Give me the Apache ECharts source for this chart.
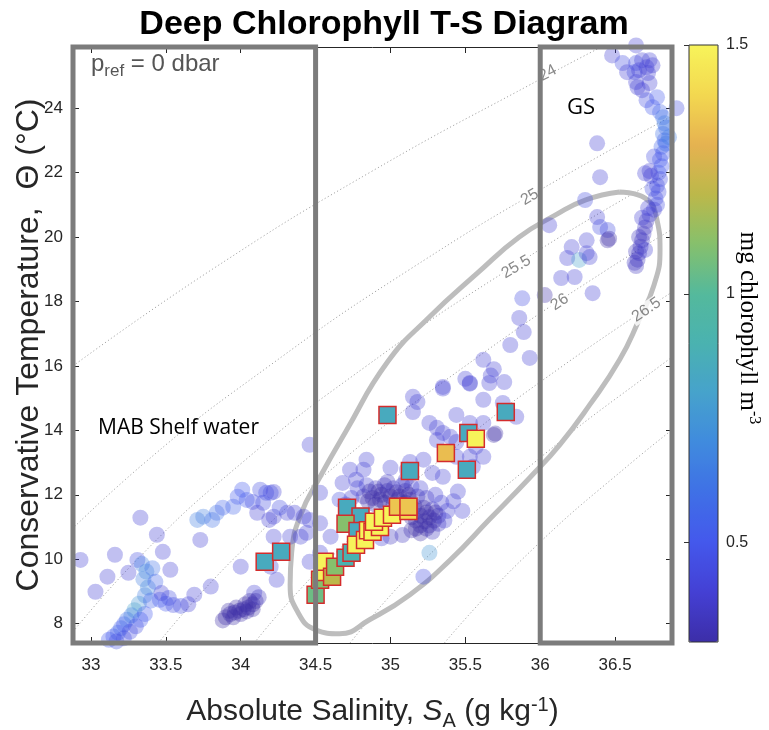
<!DOCTYPE html>
<html>
<head>
<meta charset="utf-8">
<title>Deep Chlorophyll T-S Diagram</title>
<script src="https://cdn.jsdelivr.net/npm/echarts/dist/echarts.min.js"></script>
<style>
  html, body { margin: 0; padding: 0; background: #fff; }
  #main { width: 769px; height: 730px; }
</style>
</head>
<body>
<div id="main"></div>
<script type="text/javascript">
// axis ranges and tick labels
var sRange = [32.88, 36.88];
var tRange = [7.4, 25.9];
var chlRange = [0.3, 1.5];
var salinityTicks = [33, 33.5, 34, 34.5, 35, 35.5, 36, 36.5];
var tempTicks = [8, 10, 12, 14, 16, 18, 20, 22, 24];
var chlTicks = [0.5, 1, 1.5];

// water mass boxes (salinity limits)
var shelfBox = [32.88, 34.5];
var gsBox = [36, 36.88];

// isopycnals (sigma0), points [S, T]
var isoLevels = [24, 25, 25.5, 26, 26.5, 27, 27.5];
var isoLines = [
  [[32.88, 16], [33.81, 19], [34.86, 22], [36.04, 25], [36.45, 26]],
  [[32.67, 10], [33.36, 13], [34.19, 16], [35.13, 19], [36.2, 22], [37.38, 25]],
  [[32.82, 7.4], [33.31, 10], [34.01, 13], [34.84, 16], [35.79, 19], [36.86, 22], [37.26, 23]],
  [[33.45, 7.4], [33.95, 10], [34.66, 13], [35.5, 16], [36.45, 19], [37.16, 21]],
  [[34.09, 7.4], [34.59, 10], [35.31, 13], [36.15, 16], [37.12, 19]],
  [[34.73, 7.4], [35.23, 10], [35.96, 13], [36.8, 16], [37.11, 17]],
  [[35.36, 7.4], [35.88, 10], [36.61, 13], [37.16, 15]]
];
var isoLabels = [
  [36.05, 25.09, '24'],
  [35.93, 21.24, '25'],
  [35.84, 19.07, '25.5'],
  [36.13, 17.98, '26'],
  [36.71, 17.74, '26.5']
];
var isoLabelAngles = [28, 31, 31, 34, 34];

// grey ellipse round the DCM cluster [S, T]
var ellipsePts = [
  [36.53, 21.4], [36.7, 21.21], [36.78, 20.53], [36.8, 19.6], [36.76, 18.51],
  [36.66, 17.43], [36.53, 16.19], [36.33, 14.79], [36.13, 13.55], [35.93, 12.53],
  [35.66, 11.23], [35.4, 9.98], [35.13, 8.9], [34.86, 8.12], [34.66, 7.69],
  [34.5, 7.81], [34.38, 8.37], [34.33, 9.21], [34.34, 10.2], [34.4, 11.38],
  [34.53, 12.56], [34.7, 13.95], [34.98, 16.12], [35.26, 17.52], [35.58, 18.88],
  [35.86, 20.0], [36.1, 20.68], [36.3, 21.15], [36.53, 21.4]
];

// all profiles [S, T, chl]
var shelfCircles = [
  [32.93, 9.98, 0.4], [33.03, 8.99, 0.4], [33.11, 9.46, 0.4], [33.16, 10.14, 0.4],
  [33.25, 9.58, 0.4], [33.31, 9.98, 0.45], [33.33, 11.29, 0.4], [33.44, 10.76, 0.4],
  [33.48, 10.23, 0.4], [33.53, 9.67, 0.4],
  [33.34, 9.85, 0.65], [33.37, 9.62, 0.7], [33.35, 9.38, 0.65], [33.38, 9.12, 0.7],
  [33.36, 8.88, 0.65], [33.32, 8.62, 0.75], [33.29, 8.42, 0.8], [33.41, 9.72, 0.6],
  [33.43, 9.3, 0.55], [33.4, 8.72, 0.55],
  [33.46, 8.74, 0.5], [33.5, 8.62, 0.5], [33.55, 8.58, 0.45], [33.6, 8.55, 0.45],
  [33.65, 8.6, 0.4], [33.69, 8.9, 0.4], [33.8, 9.15, 0.4], [33.47, 8.95, 0.4], [33.52, 8.8, 0.45],
  [33.12, 7.5, 0.5], [33.15, 7.6, 0.5], [33.18, 7.72, 0.55], [33.2, 7.86, 0.55],
  [33.22, 7.98, 0.5], [33.24, 8.12, 0.6], [33.27, 8.26, 0.65], [33.26, 7.75, 0.45],
  [33.3, 7.92, 0.45], [33.17, 7.45, 0.45], [33.22, 7.55, 0.45], [33.33, 8.12, 0.5], [33.36, 8.3, 0.5],
  [33.71, 11.22, 0.65], [33.75, 11.32, 0.65], [33.81, 11.22, 0.6], [33.84, 11.44, 0.6],
  [33.88, 11.6, 0.55], [33.95, 11.63, 0.55], [33.98, 11.94, 0.5], [34.01, 12.16, 0.5],
  [34.04, 11.84, 0.5], [34.08, 11.78, 0.45], [34.13, 12.16, 0.45], [34.17, 12.06, 0.45],
  [34.22, 12.09, 0.4], [34.15, 11.75, 0.45], [34.11, 11.44, 0.4], [34.22, 11.32, 0.4],
  [34.31, 11.44, 0.4], [34.36, 11.44, 0.4], [33.73, 10.6, 0.4], [34.2, 12.06, 0.45],
  [34.0, 9.77, 0.4], [34.09, 8.96, 0.4], [34.22, 10.7, 0.4], [34.24, 9.36, 0.4],
  [34.2, 9.77, 0.4], [34.19, 11.22, 0.4],
  [33.88, 8.1, 0.3], [33.9, 8.2, 0.3], [33.93, 8.3, 0.3], [33.96, 8.35, 0.3],
  [33.99, 8.4, 0.3], [34.02, 8.45, 0.3], [34.05, 8.5, 0.3], [34.08, 8.6, 0.3],
  [34.1, 8.7, 0.3], [33.95, 8.2, 0.3], [34.0, 8.3, 0.3], [34.04, 8.38, 0.3],
  [34.08, 8.45, 0.3], [33.92, 8.4, 0.3], [33.97, 8.5, 0.3], [34.03, 8.6, 0.3],
  [34.12, 8.82, 0.35], [34.06, 8.7, 0.3]
];
var cloudCircles = [
  [34.46, 13.55, 0.4], [34.26, 11.6, 0.45], [34.42, 11.32, 0.4], [34.53, 12.06, 0.4],
  [34.33, 10.7, 0.4], [34.4, 10.7, 0.4], [34.44, 10.82, 0.4], [34.46, 9.92, 0.4],
  [34.53, 10.2, 0.4], [34.6, 10.7, 0.4], [34.46, 11.22, 0.4], [34.53, 11.12, 0.4],
  [34.73, 12.78, 0.4], [34.68, 12.37, 0.4], [34.77, 12.47, 0.4], [34.82, 12.78, 0.4],
  [34.84, 13.09, 0.4], [35.0, 12.84, 0.4], [35.11, 12.78, 0.4], [35.13, 13.02, 0.4],
  [35.22, 13.09, 0.4], [35.28, 12.68, 0.4], [35.35, 12.56, 0.4], [35.44, 13.18, 0.4],
  [35.53, 13.18, 0.4], [35.57, 13.49, 0.4], [35.55, 12.87, 0.4], [35.62, 13.18, 0.4],
  [35.31, 13.7, 0.4], [35.26, 14.23, 0.4], [35.31, 14.08, 0.4], [35.35, 13.92, 0.4],
  [35.4, 13.8, 0.4], [35.44, 13.64, 0.4], [35.53, 14.23, 0.4], [35.62, 14.23, 0.4],
  [35.62, 14.95, 0.4], [35.53, 15.47, 0.4], [35.66, 15.47, 0.4], [35.69, 13.86, 0.3],
  [35.7, 13.9, 0.3], [35.84, 14.42, 0.4], [35.75, 14.85, 0.4], [35.15, 15.04, 0.4],
  [35.18, 14.88, 0.4], [35.15, 14.57, 0.4], [35.35, 15.35, 0.4], [35.44, 14.48, 0.4],
  [35.26, 10.2, 0.75], [35.22, 9.46, 0.45], [35.42, 11.8, 0.4], [35.45, 12.1, 0.4],
  [35.48, 11.5, 0.4]
];
var coreCircles = [
  [34.78, 12.2, 0.4], [34.84, 12.3, 0.4], [34.9, 12.2, 0.35], [34.96, 12.3, 0.35],
  [35.02, 12.2, 0.35], [35.08, 12.3, 0.4], [35.14, 12.25, 0.4], [35.2, 12.2, 0.4],
  [34.82, 11.95, 0.35], [34.88, 11.9, 0.3], [34.94, 12.0, 0.3], [35.0, 11.95, 0.3],
  [35.06, 11.95, 0.3], [35.12, 12.0, 0.3], [35.18, 11.95, 0.35], [35.24, 11.9, 0.35],
  [34.9, 11.7, 0.3], [34.96, 11.75, 0.3], [35.02, 11.7, 0.3], [35.1, 11.75, 0.3],
  [35.16, 11.65, 0.3], [35.22, 11.6, 0.3], [35.28, 11.55, 0.35], [35.2, 11.35, 0.3],
  [35.26, 11.3, 0.3], [35.32, 11.35, 0.35], [35.14, 11.3, 0.3], [35.2, 11.05, 0.3],
  [35.26, 11.05, 0.3], [35.32, 11.1, 0.35], [35.14, 10.9, 0.3], [35.08, 10.75, 0.35],
  [35.2, 10.8, 0.3], [35.28, 10.85, 0.35], [35.0, 10.7, 0.35], [34.94, 10.65, 0.4],
  [35.36, 11.2, 0.4], [35.38, 11.5, 0.4], [35.34, 11.75, 0.4], [35.3, 12.0, 0.4],
  [34.74, 11.9, 0.4], [34.7, 11.7, 0.4], [34.66, 11.85, 0.45],
  [34.86, 12.1, 0.3], [34.92, 12.1, 0.3], [34.98, 12.12, 0.3], [35.04, 12.08, 0.3],
  [35.1, 12.12, 0.3], [34.85, 11.8, 0.3], [34.93, 11.85, 0.3], [35.05, 11.85, 0.3],
  [35.13, 11.85, 0.3], [35.08, 11.6, 0.3], [35.18, 11.5, 0.3], [35.24, 11.45, 0.3],
  [35.17, 11.2, 0.3], [35.23, 11.18, 0.3], [35.29, 11.2, 0.3], [35.24, 10.95, 0.3],
  [35.17, 10.95, 0.3], [35.3, 11.45, 0.3], [34.98, 12.4, 0.35], [35.1, 12.45, 0.35]
];
var midCircles = [
  [36.06, 20.37, 0.4], [36.21, 19.69, 0.4], [36.18, 19.35, 0.4], [36.26, 19.29, 0.8],
  [36.14, 18.73, 0.4], [36.23, 18.76, 0.4], [36.03, 18.2, 0.3], [35.88, 18.1, 0.45],
  [35.86, 17.49, 0.4], [35.89, 17.05, 0.4], [35.8, 16.65, 0.4], [35.93, 16.25, 0.4],
  [35.62, 16.19, 0.4], [35.69, 15.9, 0.4], [35.67, 15.7, 0.4], [35.76, 15.5, 0.4],
  [35.5, 15.6, 0.4], [35.53, 15.45, 0.4], [35.35, 15.3, 0.4],
  [36.38, 22.91, 0.4], [36.4, 21.86, 0.4], [36.3, 21.15, 0.45], [36.38, 20.62, 0.4],
  [36.4, 20.31, 0.45], [36.45, 20.22, 0.45], [36.45, 19.9, 0.3], [36.46, 19.95, 0.3],
  [36.31, 19.9, 0.4], [36.31, 19.5, 0.4], [36.33, 19.38, 0.4], [36.35, 18.26, 0.4]
];
var gsCircles = [
  [36.64, 25.95, 0.4], [36.48, 25.64, 0.4], [36.55, 25.4, 0.45], [36.64, 25.4, 0.45],
  [36.68, 25.49, 0.4], [36.73, 25.49, 0.4], [36.58, 25.12, 0.4], [36.63, 25.12, 0.45],
  [36.66, 25.18, 0.4], [36.71, 25.27, 0.4], [36.75, 25.33, 0.4], [36.72, 25.09, 0.4],
  [36.64, 24.81, 0.4], [36.65, 24.65, 0.4], [36.68, 24.56, 0.4], [36.73, 24.78, 0.4],
  [36.71, 24.25, 0.45], [36.78, 24.34, 0.5], [36.75, 24.03, 0.5], [36.8, 23.88, 0.55],
  [36.82, 23.72, 0.6], [36.91, 24.0, 0.45], [36.83, 23.53, 0.65],
  [36.84, 23.4, 0.6], [36.82, 23.2, 0.6], [36.83, 23.0, 0.55], [36.81, 22.8, 0.55],
  [36.82, 22.6, 0.5], [36.8, 22.4, 0.5], [36.81, 22.2, 0.5], [36.79, 22.0, 0.5],
  [36.8, 21.8, 0.45], [36.78, 21.6, 0.45], [36.79, 21.4, 0.45], [36.77, 21.2, 0.45],
  [36.78, 21.0, 0.45], [36.76, 20.85, 0.4], [36.74, 21.9, 0.4], [36.73, 22.05, 0.4],
  [36.84, 22.9, 0.6], [36.86, 23.1, 0.65], [36.7, 21.98, 0.4], [36.76, 22.5, 0.45],
  [36.75, 21.5, 0.45],
  [36.73, 20.7, 0.4], [36.71, 20.5, 0.35], [36.7, 20.3, 0.35], [36.69, 20.1, 0.35],
  [36.68, 19.9, 0.35], [36.67, 19.7, 0.35], [36.66, 19.5, 0.35], [36.65, 19.3, 0.35],
  [36.64, 19.1, 0.35], [36.66, 20.0, 0.35], [36.7, 19.6, 0.4], [36.72, 20.9, 0.4],
  [36.64, 19.55, 0.35], [36.63, 19.2, 0.35], [36.68, 20.6, 0.4]
];

// deep chlorophyll maximum samples [S, T, chl]
var dcmSquares = [
  [34.98, 14.48, 0.85], [35.77, 14.57, 0.85], [35.52, 13.92, 0.85], [35.57, 13.74, 1.5],
  [35.37, 13.3, 1.33], [35.13, 12.74, 0.85], [35.51, 12.78, 0.85], [34.16, 9.92, 0.85],
  [34.27, 10.23, 0.85], [34.71, 11.6, 0.85], [34.8, 11.33, 0.85], [34.7, 11.1, 1.1],
  [34.78, 10.88, 0.85],
  [34.5, 8.9, 1.05], [34.53, 9.36, 1.1], [34.55, 9.6, 1.5], [34.56, 9.92, 1.5],
  [34.61, 9.46, 1.2], [34.63, 9.77, 1.1], [34.7, 10.05, 0.9], [34.74, 10.2, 0.9],
  [34.77, 10.45, 1.5], [34.83, 10.6, 1.5], [34.85, 10.9, 1.5], [34.88, 10.85, 1.5],
  [34.93, 11.0, 1.5], [34.89, 11.16, 1.5], [34.95, 11.29, 1.5], [35.01, 11.38, 1.5],
  [35.12, 11.5, 1.4], [35.05, 11.63, 1.35], [35.12, 11.63, 1.35]
];

// colour map, 0.3 .. 1.5
var chlColors = ['#3c2ea8', '#4440d4', '#4458ec', '#3f70e6', '#408ade', '#46a2cc', '#4ab2b0',
  '#54b99c', '#86c06c', '#bcb84a', '#e6b250', '#f3d850', '#f7f35a'];

var FONT = 'Liberation Sans, Arial, Helvetica, sans-serif';
var axisCol = '#262626';

var myChart = echarts.init(document.getElementById('main'));

var isoSeries = isoLines.map(function (pts, i) {
  return {
    name: 'sigma ' + isoLevels[i], type: 'line', data: pts, symbol: 'none', smooth: true,
    clip: true, silent: true, z: 1,
    lineStyle: { color: '#9c9c9c', width: 0.9, type: [1.2, 2.4] }
  };
});

var ellipseSeries = {
  type: 'line', data: ellipsePts, symbol: 'none', smooth: true, clip: false, silent: true, z: 2,
  lineStyle: { color: '#bdbdbd', width: 5 }
};

var labelSeries = {
  type: 'scatter', silent: true, z: 2, symbolSize: 1,
  itemStyle: { color: 'rgba(0,0,0,0)' },
  data: isoLabels.map(function (d, i) {
    return { value: [d[0], d[1]], label: { formatter: d[2], rotate: isoLabelAngles[i] } };
  }),
  label: { show: true, position: 'inside', color: '#6a6a6a', fontSize: 16, fontFamily: FONT,
    backgroundColor: '#fff', padding: [0, 2] }
};

var circleSeries = {
  name: 'profiles', type: 'scatter', clip: false, symbolSize: 16, z: 3,
  data: shelfCircles.concat(cloudCircles, coreCircles, midCircles, gsCircles),
  itemStyle: { opacity: 0.33 }
};

var squareSeries = {
  name: 'DCM', type: 'scatter', clip: false, symbol: 'rect', symbolSize: 17, z: 4,
  data: dcmSquares,
  itemStyle: { opacity: 1, borderColor: '#d42c2c', borderWidth: 1.5 }
};

function boxSeries(lim) {
  return {
    type: 'line', symbol: 'none', clip: false, silent: true, z: 5,
    data: [[lim[0], tRange[0]], [lim[1], tRange[0]], [lim[1], tRange[1]], [lim[0], tRange[1]], [lim[0], tRange[0]]],
    lineStyle: { color: '#7c7c7c', width: 5, cap: 'square', join: 'miter' }
  };
}

var series = isoSeries.concat([ellipseSeries, labelSeries, circleSeries, squareSeries,
  boxSeries(shelfBox), boxSeries(gsBox)]);
var circleIdx = isoSeries.length + 2;

var option = {
  animation: false,
  backgroundColor: '#fff',
  title: {
    text: 'Deep Chlorophyll T-S Diagram', left: 379, top: 3, textAlign: 'center',
    textStyle: { fontSize: 34, fontWeight: 'bold', color: '#000', fontFamily: FONT }
  },
  grid: [
    { left: 73, top: 47, right: 97, bottom: 87, outerBoundsMode: 'none', containLabel: false },
    { left: 689, top: 45, width: 29, height: 597, show: true, borderColor: '#333', borderWidth: 1, z: 6,
      outerBoundsMode: 'none', containLabel: false }
  ],
  xAxis: [
    {
      type: 'value', min: sRange[0], max: sRange[1], position: 'bottom',
      axisLine: { onZero: false, lineStyle: { color: axisCol, width: 1 } },
      axisTick: { inside: true, length: 6, customValues: salinityTicks, lineStyle: { color: axisCol } },
      axisLabel: { customValues: salinityTicks, fontSize: 17, color: axisCol, margin: 14, fontFamily: FONT },
      splitLine: { show: false },
      name: '{t|Absolute Salinity, }{it|S}{sub|A}{t| (g kg}{sup|-1}{t|)}',
      nameLocation: 'middle', nameGap: 50, nameMoveOverlap: false,
      nameTextStyle: {
        color: axisCol, fontSize: 30, fontFamily: FONT,
        rich: {
          t: { fontSize: 30, color: axisCol, fontFamily: FONT },
          it: { fontSize: 30, color: axisCol, fontFamily: FONT, fontStyle: 'italic' },
          sub: { fontSize: 20, color: axisCol, fontFamily: FONT, padding: [18, 0, 0, 0] },
          sup: { fontSize: 20, color: axisCol, fontFamily: FONT, padding: [0, 0, 14, 0] }
        }
      }
    },
    {
      type: 'value', min: sRange[0], max: sRange[1], position: 'top',
      axisLine: { onZero: false, lineStyle: { color: axisCol, width: 1 } },
      axisTick: { inside: true, length: 6, customValues: salinityTicks, lineStyle: { color: axisCol } },
      axisLabel: { show: false }, splitLine: { show: false }
    },
    { type: 'value', gridIndex: 1, min: 0, max: 1, show: false }
  ],
  yAxis: [
    {
      type: 'value', min: tRange[0], max: tRange[1], position: 'left',
      axisLine: { show: true, onZero: false, lineStyle: { color: axisCol, width: 1 } },
      axisTick: { show: true, inside: true, length: 6, customValues: tempTicks, lineStyle: { color: axisCol } },
      axisLabel: { customValues: tempTicks, fontSize: 17, color: axisCol, margin: 10, fontFamily: FONT },
      splitLine: { show: false },
      name: 'Conservative Temperature,  \u0398 (\u00b0C)', nameLocation: 'middle', nameGap: 28, nameRotate: 90,
      nameMoveOverlap: false,
      nameTextStyle: { color: axisCol, fontSize: 32, fontFamily: FONT }
    },
    {
      type: 'value', min: tRange[0], max: tRange[1], position: 'right',
      axisLine: { show: true, onZero: false, lineStyle: { color: axisCol, width: 1 } },
      axisTick: { show: true, inside: true, length: 6, customValues: tempTicks, lineStyle: { color: axisCol } },
      axisLabel: { show: false }, splitLine: { show: false }
    },
    {
      type: 'value', gridIndex: 1, min: chlRange[0], max: chlRange[1], position: 'right',
      axisLine: { show: false },
      axisTick: { show: true, inside: true, length: 5, customValues: chlTicks, lineStyle: { color: '#333' } },
      axisLabel: { customValues: chlTicks, fontSize: 16, color: axisCol, margin: 8, fontFamily: FONT },
      splitLine: { show: false }
    }
  ],
  visualMap: {
    type: 'continuous', min: chlRange[0], max: chlRange[1], dimension: 2,
    seriesIndex: [circleIdx, circleIdx + 1],
    calculable: false, orient: 'vertical', left: 689, top: 45, padding: 0,
    itemWidth: 29, itemHeight: 597, text: ['', ''], textGap: 0, hoverLink: false,
    inRange: { color: chlColors }
  },
  graphic: [
    {
      type: 'text', left: 91, top: 52, z: 10,
      style: {
        text: '{p|p}{s|ref}{p| = 0 dbar}',
        rich: {
          p: { fontSize: 24, fontFamily: FONT, fill: '#555' },
          s: { fontSize: 17, fontFamily: FONT, fill: '#555', padding: [14, 0, 0, 0] }
        }
      }
    },
    {
      type: 'text', left: 98, top: 418, z: 10,
      style: { text: 'MAB Shelf water', fontSize: 21, fontFamily: 'Open Sans, sans-serif', fill: '#000' }
    },
    {
      type: 'text', left: 567, top: 97, z: 10,
      style: { text: 'GS', fontSize: 22, fontFamily: 'Open Sans, sans-serif', fill: '#000' }
    },
    {
      type: 'text', x: 748, y: 328, rotation: -Math.PI / 2, z: 10,
      style: {
        text: '{a|mg chlorophyll m}{b|-3}', align: 'center', verticalAlign: 'middle',
        rich: {
          a: { fontSize: 25, fontFamily: 'Liberation Serif, serif', fill: '#000' },
          b: { fontSize: 16, fontFamily: 'Liberation Serif, serif', fill: '#000', padding: [0, 0, 12, 0] }
        }
      }
    }
  ],
  series: series
};

myChart.setOption(option);
</script>
</body>
</html>
